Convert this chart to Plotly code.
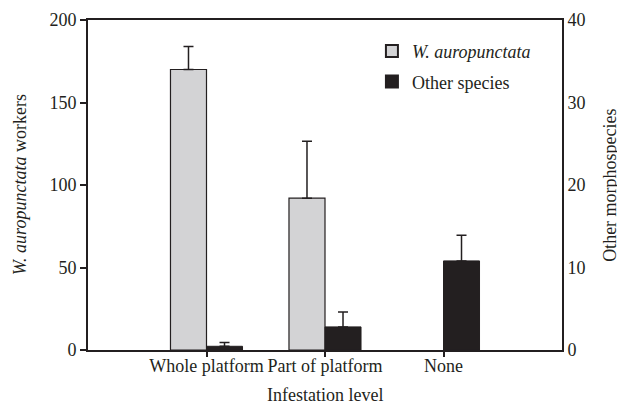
import plotly.graph_objects as go

categories = ["Whole platform", "Part of platform", "None"]
wa_values = [170, 92, None]
wa_err = [14, 34.5, None]
other_values = [0.45, 2.8, 10.8]
other_err = [0.45, 1.8, 3.1]
left_ticks = [0, 50, 100, 150, 200]
right_ticks = [0, 10, 20, 30, 40]

x_idx = list(range(len(categories)))
bw = 0.304
font = "Liberation Serif, Times New Roman, serif"
ink = "#231f20"

fig = go.Figure()
fig.add_trace(go.Bar(
    x=x_idx, y=wa_values, name="<i>W. auropunctata</i>", legendgroup="a",
    width=bw, offset=-bw,
    marker=dict(color="#d3d3d5", line=dict(color=ink, width=1.2)),
    error_y=dict(type="data", array=wa_err, arrayminus=[0, 0, 0], symmetric=False,
                 color=ink, thickness=1.5, width=5),
    yaxis="y",
))
fig.add_trace(go.Bar(
    x=x_idx, y=other_values, name="Other species", legendgroup="b",
    width=bw, offset=0,
    marker=dict(color=ink, line=dict(color=ink, width=1)),
    error_y=dict(type="data", array=other_err, arrayminus=[0, 0, 0], symmetric=False,
                 color=ink, thickness=1.5, width=5),
    yaxis="y2",
))

fig.update_layout(
    template="none",
    width=617, height=396,
    margin=dict(l=80, r=63, t=12, b=54),
    paper_bgcolor="white", plot_bgcolor="white",
    font=dict(family=font, size=18, color=ink),
    showlegend=True,
    legend=dict(x=0.599, y=0.961, xanchor="left", yanchor="top",
                bgcolor="rgba(0,0,0,0)", font=dict(size=18), tracegroupgap=4,
                itemsizing="constant"),
    xaxis=dict(
        range=[-1, 3], tickmode="array", tickvals=x_idx, ticktext=categories,
        showline=True, linecolor=ink, linewidth=2, mirror=True,
        ticks="outside", ticklen=5, tickcolor=ink, tickwidth=1.5,
        ticklabelstandoff=-7,
        showgrid=False, zeroline=False, automargin=False,
    ),
    yaxis=dict(
        range=[0, 200], tickmode="array", tickvals=left_ticks,
        showline=True, linecolor=ink, linewidth=2,
        ticks="outside", ticklen=6, tickcolor=ink, tickwidth=1.5,
        showgrid=False, zeroline=False, automargin=False,
    ),
    yaxis2=dict(
        range=[0, 40], tickmode="array", tickvals=right_ticks,
        overlaying="y", side="right",
        showline=True, linecolor=ink, linewidth=2,
        ticks="", showgrid=False, zeroline=False, automargin=False,
    ),
    annotations=[
        dict(text="Infestation level", xref="paper", yref="paper", x=0.5, y=-0.136,
             xanchor="center", yanchor="middle", showarrow=False, font=dict(size=18)),
        dict(text="<i>W. auropunctata</i> workers", xref="paper", yref="paper",
             x=-0.143, y=0.5, xanchor="center", yanchor="middle", textangle=-90,
             showarrow=False, font=dict(size=18)),
        dict(text="Other morphospecies", xref="paper", yref="paper",
             x=1.101, y=0.5, xanchor="center", yanchor="middle", textangle=-90,
             showarrow=False, font=dict(size=18)),
    ],
)

fig.write_html("out.html")
